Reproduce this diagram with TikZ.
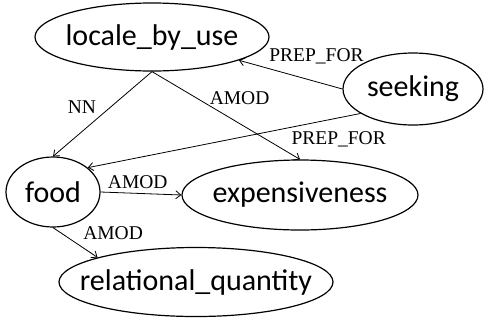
\documentclass[tikz,border=0pt]{standalone}
\usepackage{fontspec}
\setmainfont{Liberation Serif}
\newfontfamily\carlito{Carlito}
\usepackage{tikz}
\usetikzlibrary{shapes.geometric,arrows.meta}

\begin{document}
\begin{tikzpicture}[x=1pt,y=-1pt,
  word/.style={ellipse, draw, line width=1.2pt, inner sep=0pt,
    font=\carlito\fontsize{30}{30}\selectfont},
  dep/.style={line width=0.8pt, -{Straight Barb[length=5pt,width=8pt]}},
  rel/.style={inner sep=1pt, font=\fontsize{19.5}{20}\selectfont}]
\useasboundingbox (0,0) rectangle (484,325);
\node[word, minimum width=234pt, minimum height=68pt] (locale) at (152,37) {\makebox[0pt]{locale\_by\_use}};
\node[word, minimum width=140pt, minimum height=72pt] (seeking) at (413,89) {\makebox[0pt]{seeking}};
\node[word, minimum width=94pt, minimum height=70pt] (food) at (53,192) {\makebox[0pt]{food}};
\node[word, minimum width=236pt, minimum height=70pt] (expens) at (300,195) {\makebox[0pt]{expensiveness}};
\node[word, minimum width=274pt, minimum height=69pt] (relq) at (196,282) {\makebox[0pt]{relational\_quantity}};
\draw[dep] (locale.south) -- node[rel, pos=0.42, left=13pt] {NN} (food.north);
\draw[dep] (locale.south) -- node[rel, pos=0.3, right=12pt] {AMOD} (expens.north);
\draw[dep] (seeking.west) -- node[rel, pos=0.25, above=16pt] {PREP\_FOR} (locale.-15);
\draw[dep] (seeking.205) -- node[rel, pos=0.08, below=12pt] {PREP\_FOR} (food.35);
\draw[dep] (food.east) -- node[rel, pos=0.46, above=3pt] {AMOD} (expens.west);
\draw[dep] (food.south) -- node[rel, pos=0.2, right=20pt] {AMOD} (relq.166);
\end{tikzpicture}
\end{document}
